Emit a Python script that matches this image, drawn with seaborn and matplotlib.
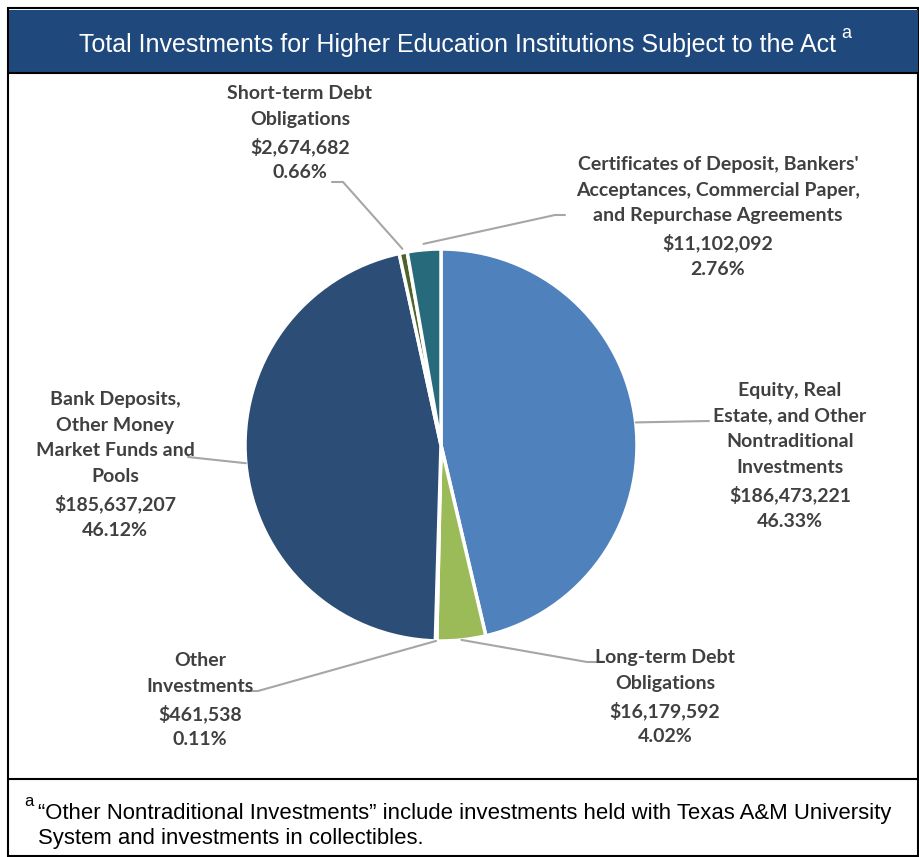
import numpy as np
import matplotlib
matplotlib.use("Agg")
import matplotlib.pyplot as plt
from matplotlib.lines import Line2D
from matplotlib.patches import Rectangle
import seaborn as sns

# Investment categories, clockwise from 12 o'clock
categories = [
    "Equity, Real\nEstate, and Other\nNontraditional\nInvestments",
    "Long-term Debt\nObligations",
    "Other\nInvestments",
    "Bank Deposits,\nOther Money\nMarket Funds and\nPools",
    "Short-term Debt\nObligations",
    "Certificates of Deposit, Bankers'\nAcceptances, Commercial Paper,\nand Repurchase Agreements",
]
amounts = [186473221, 16179592, 461538, 185637207, 2674682, 11102092]
percent_labels = ["46.33%", "4.02%", "0.11%", "46.12%", "0.66%", "2.76%"]
colors = ["#4F81BD", "#9BBB59", "#8C8C8C", "#2C4D75", "#4F6228", "#276A7C"]

title = "Total Investments for Higher Education Institutions Subject to the Act"
footnote = ("\u201cOther Nontraditional Investments\u201d include investments held with Texas A&M University\n"
            "System and investments in collectibles.")

sns.set_theme(style="white")
plt.rcParams["font.family"] = ["Lato", "DejaVu Sans"]
plain = ["Liberation Sans", "DejaVu Sans"]

W, H = 920, 857
fig = plt.figure(figsize=(W / 100, H / 100), dpi=100)
fig.patch.set_facecolor("white")


def fx(px):
    return px / W


def fy(py):
    return 1 - py / H


# frame, title band and footnote divider
fig.add_artist(Rectangle((fx(8), fy(856)), fx(910), 848 / H, transform=fig.transFigure,
                         facecolor="none", edgecolor="black", lw=1.5))
fig.add_artist(Rectangle((fx(9), fy(72)), fx(909), 62 / H, transform=fig.transFigure,
                         facecolor="#1F497D", edgecolor="none"))
fig.add_artist(Line2D([fx(8), fx(918)], [fy(73), fy(73)], color="black", lw=1.5))
fig.add_artist(Line2D([fx(8), fx(918)], [fy(779), fy(779)], color="black", lw=1.5))

fig.text(fx(458), fy(45), title, color="white", fontsize=18.0, ha="center", va="center",
         family=plain)
fig.text(fx(846), fy(33), "a", color="white", fontsize=13, ha="center", va="center",
         family=plain)

fig.text(fx(29), fy(801), "a", color="black", fontsize=12, ha="center", va="center",
         family=plain)
fig.text(fx(38), fy(826), footnote, color="black", fontsize=15.9, ha="left", va="center",
         linespacing=1.3, family=plain)

# pie
cx, cy, r = 441, 445, 196
ax = fig.add_axes([fx(cx - r), fy(cy + r), 2 * r / W, 2 * r / H])
wedges, _ = ax.pie(amounts, colors=colors, startangle=90, counterclock=False,
                   wedgeprops=dict(edgecolor="white", linewidth=2.5))
ax.set_xlim(-1, 1)
ax.set_ylim(-1, 1)
ax.set_aspect("auto")
ax.axis("off")

# label blocks (center x, first-line y in px) and leader elbow points
label_pos = [(790, 389), (665, 656), (200, 659), (115, 398), (300, 92), (718, 163)]
leader_pts = [
    [(709, 421)],
    [(587, 662), (597, 662)],
    [(258, 691), (246, 691)],
    [(188, 457)],
    [(343, 182), (332, 182)],
    [(555, 215), (565, 215)],
]
leader_r = [1.0, 1.0, 1.0, 1.0, 1.02, 1.03]

total = sum(amounts)
start = 0.0
for i, amt in enumerate(amounts):
    frac = amt / total
    mid = (start + frac / 2) * 2 * np.pi
    start += frac
    sx = cx + r * leader_r[i] * np.sin(mid)
    sy = cy - r * leader_r[i] * np.cos(mid)
    xs = [sx] + [p[0] for p in leader_pts[i]]
    ys = [sy] + [p[1] for p in leader_pts[i]]
    fig.add_artist(Line2D([fx(x) for x in xs], [fy(y) for y in ys], color="#A6A6A6", lw=1.5))
    text = f"{categories[i]}\n${amt:,.0f}\n{percent_labels[i]}"
    lx, ly = label_pos[i]
    fig.text(fx(lx), fy(ly - 7), text, ha="center", va="top", fontsize=14,
             fontweight="bold", color="#404040", linespacing=1.61)

fig.savefig("out.png", dpi=100)
